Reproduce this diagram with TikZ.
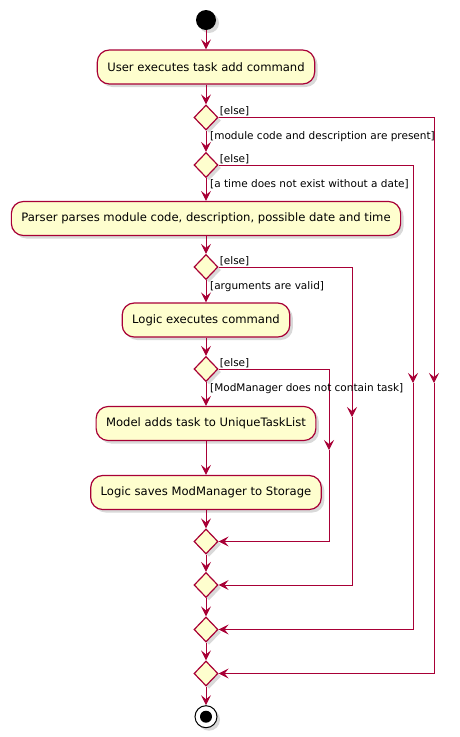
\documentclass[tikz,border=0pt]{standalone}
\usepackage{fontspec}
\setmainfont{DejaVu Sans}
\usetikzlibrary{shapes.geometric,arrows.meta,shadows}
\definecolor{umlred}{HTML}{A80036}
\definecolor{umlfill}{HTML}{FEFECE}
\tikzset{
	shade/.style={drop shadow={opacity=0.3,shadow xshift=3pt,shadow yshift=-3pt}},
	act/.style={draw=umlred,fill=umlfill,line width=1.2pt,rounded corners=12pt,minimum height=34pt,inner xsep=10pt,font=\fontsize{11.6}{13}\selectfont,shade},
	choice/.style={diamond,draw=umlred,fill=umlfill,line width=1.2pt,minimum width=24pt,minimum height=25pt,inner sep=0pt,shade},
	flow/.style={draw=umlred,line width=1pt,-{Stealth[length=10pt,width=10pt,inset=4pt]}},
	guard/.style={font=\fontsize{10.5}{12}\selectfont,inner sep=1pt}
}
\begin{document}
\begin{tikzpicture}[x=1pt,y=-1pt]
	\useasboundingbox (0,0) rectangle (459,737);
	\node[circle,fill=black,minimum size=20pt,inner sep=0pt,shade] (start) at (206,20) {};
	\node[act] (a1) at (206,67)    {User executes task add command};
	\node[choice] (d1) at (206,117.5) {};
	\node[choice] (d2) at (206,165)   {};
	\node[act] (a2) at (206,218.5) {Parser parses module code, description, possible date and time};
	\node[choice] (d3) at (206,267)   {};
	\node[act] (a3) at (206,320)   {Logic executes command};
	\node[choice] (d4) at (206,369)   {};
	\node[act] (a4) at (206,423.5) {Model adds task to UniqueTaskList};
	\node[act] (a5) at (206,492.5) {Logic saves ModManager to Storage};
	\foreach \m/\y in {m1/541.5,m2/585,m3/629.5,m4/673.5}
		\node[choice] (\m) at (206,\y) {};
	\node[circle,draw=black,fill=white,line width=1pt,minimum size=22pt,inner sep=0pt,shade] (stop) at (206,716.7) {};
	\fill (stop) circle (6pt);
	\foreach \a/\b in {start/a1,a1/d1,d1/d2,d2/a2,a2/d3,d3/a3,a3/d4,d4/a4,a4/a5,a5/m1,m1/m2,m2/m3,m3/m4,m4/stop}
		\draw[flow] (\a) -- (\b);
	\foreach \d/\m/\x/\y in {d1/m4/434/383,d2/m3/413/383,d3/m2/352/417,d4/m1/329/450}{
		\coordinate (\d-turn) at (\x,\y);
		\draw[flow] (\d.east) -| (\d-turn);
		\draw[flow] (\d-turn) |- (\m.east);
		\node[guard,anchor=south west] at (\d.east) {[else]};
	}
	\node[guard,anchor=north west] at ([xshift=3pt]d1.south) {[module code and description are present]};
	\node[guard,anchor=north west] at ([xshift=3pt]d2.south) {[a time does not exist without a date]};
	\node[guard,anchor=north west] at ([xshift=3pt]d3.south) {[arguments are valid]};
	\node[guard,anchor=north west] at ([xshift=3pt]d4.south) {[ModManager does not contain task]};
\end{tikzpicture}
\end{document}
